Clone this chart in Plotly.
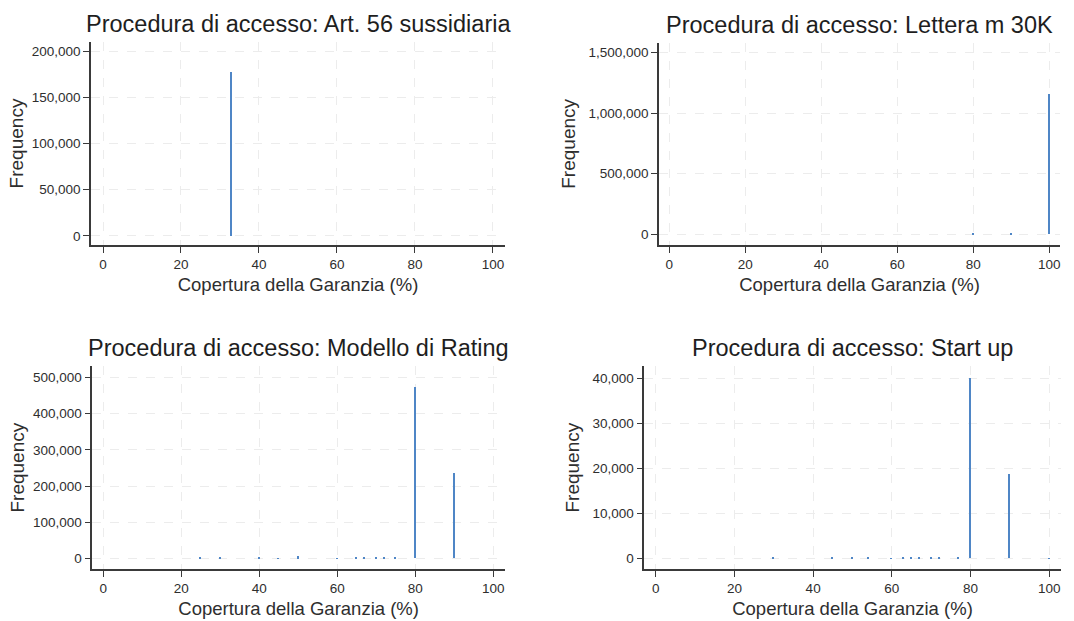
import plotly.graph_objects as go

# Copertura della garanzia (%) and number of operations per access procedure
art56_cov = [33]
art56_freq = [177500]

lettm_cov = [80, 90, 100]
lettm_freq = [5000, 14000, 1165000]

rating_cov = [25, 30, 40, 45, 50, 60, 65, 67, 70, 72, 75, 80, 90]
rating_freq = [900, 1200, 1000, 800, 5500, 800, 1200, 900, 1000, 900, 1100, 474000, 235000]

startup_cov = [30, 45, 50, 54, 60, 63, 65, 67, 70, 72, 77, 80, 90, 100]
startup_freq = [90, 80, 150, 70, 60, 80, 90, 70, 80, 90, 70, 40200, 18700, 60]

titles = [
    "Procedura di accesso: Art. 56 sussidiaria",
    "Procedura di accesso: Lettera m 30K",
    "Procedura di accesso: Modello di Rating",
    "Procedura di accesso: Start up",
]
x_ticks = [0, 20, 40, 60, 80, 100]
y_ticks = [
    [0, 50000, 100000, 150000, 200000],
    [0, 500000, 1000000, 1500000],
    [0, 100000, 200000, 300000, 400000, 500000],
    [0, 10000, 20000, 30000, 40000],
]
x_title = "Copertura della Garanzia (%)"
y_title = "Frequency"

series = [
    (art56_cov, art56_freq),
    (lettm_cov, lettm_freq),
    (rating_cov, rating_freq),
    (startup_cov, startup_freq),
]

W, H = 1074, 621
# plot areas in pixels: (left, top, right, bottom)
boxes = [
    (91, 42, 505, 245),
    (659, 42.7, 1060, 245),
    (92.3, 366, 505, 569.3),
    (644.3, 366, 1060.7, 569.3),
]
x_ranges = [
    [-3.08, 103.1],
    [-2.72, 102.8],
    [-2.8, 103.0],
    [-2.9, 102.9],
]
y_ranges = [
    [-9950, 209950],
    [-91000, 1583000],
    [-30460, 532000],
    [-2450, 42830],
]
ytitle_standoff = [3, 8, 3, 8]

BAR = "#4f86c6"
AX = "#3a3a3a"
GRID = "#ececec"
TXT = "#2e2e2e"
FONT = "Liberation Sans, Arial, sans-serif"

fig = go.Figure()
layout = dict(
    width=W, height=H,
    margin=dict(l=0, r=0, t=0, b=0),
    paper_bgcolor="white", plot_bgcolor="white",
    showlegend=False,
    font=dict(family=FONT, color=TXT),
    bargap=0,
    annotations=[],
)

for i, ((xs, ys), box) in enumerate(zip(series, boxes)):
    n = "" if i == 0 else str(i + 1)
    fig.add_trace(go.Bar(
        x=xs, y=ys, width=0.38,
        marker=dict(color=BAR, line=dict(width=0)),
        xaxis="x" + n, yaxis="y" + n,
    ))
    l, t, r, b = box
    layout["xaxis" + n] = dict(
        domain=[l / W, r / W],
        anchor="y" + n,
        range=x_ranges[i],
        tickvals=x_ticks,
        ticks="outside", ticklen=6, tickwidth=1.3, tickcolor=AX,
        showline=True, linecolor=AX, linewidth=1.5,
        showgrid=True, gridcolor=GRID, griddash="dash", gridwidth=1,
        zeroline=False,
        tickfont=dict(size=13.5, color=TXT),
        title=dict(text=x_title, font=dict(size=18.5, color=TXT), standoff=7),
        automargin=False,
    )
    layout["yaxis" + n] = dict(
        domain=[1 - b / H, 1 - t / H],
        anchor="x" + n,
        range=y_ranges[i],
        tickvals=y_ticks[i],
        tickformat=",",
        ticks="outside", ticklen=6, tickwidth=1.3, tickcolor=AX,
        showline=True, linecolor=AX, linewidth=1.5,
        showgrid=True, gridcolor=GRID, griddash="dash", gridwidth=1,
        zeroline=False,
        tickfont=dict(size=13.5, color=TXT),
        title=dict(text=y_title, font=dict(size=19, color=TXT),
                   standoff=ytitle_standoff[i]),
        automargin=False,
    )
    # panel title centred above the plot area
    layout["annotations"].append(dict(
        text=titles[i],
        x=(l + r) / 2 / W, y=1 - (t - 18) / H,
        xref="paper", yref="paper",
        xanchor="center", yanchor="middle",
        showarrow=False,
        font=dict(size=23.5, color="#1e1e1e", family=FONT),
    ))

fig.update_layout(**layout)
fig.write_html("out.html")
